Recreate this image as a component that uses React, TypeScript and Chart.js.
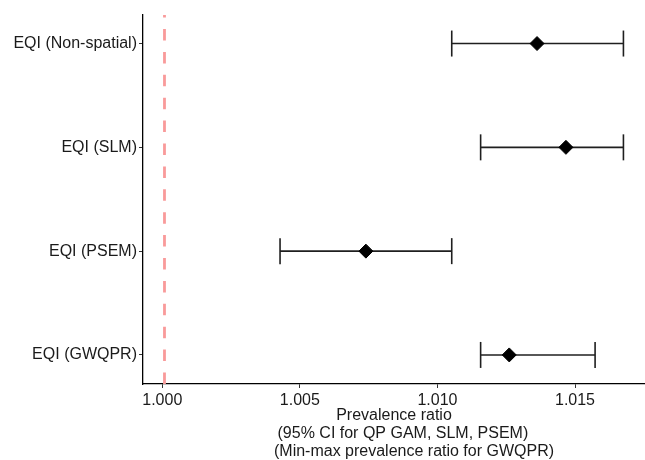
import React, { useEffect, useRef } from "react";
import { Chart, registerables } from "chart.js";

Chart.register(...registerables);

const categories = ["EQI (Non-spatial)", "EQI (SLM)", "EQI (PSEM)", "EQI (GWQPR)"];
const estimates = [1.01362, 1.01467, 1.0074, 1.01261];
const lowerBounds = [1.01052, 1.01157, 1.00428, 1.01157];
const upperBounds = [1.01676, 1.01676, 1.01052, 1.01573];
const referenceValue = 1.00008;
const xTickValues = [1.0, 1.005, 1.01, 1.015];
const xTitleLines = [
  "Prevalence ratio",
  "    (95% CI for QP GAM, SLM, PSEM)",
  "         (Min-max prevalence ratio for GWQPR)",
];

const X_MIN = 0.999299;
const X_MAX = 1.017544;
const Y_MIN = 0.725;
const Y_MAX = 4.28;

export default function App() {
  const canvasRef = useRef<HTMLCanvasElement | null>(null);

  useEffect(() => {
    document.body.style.margin = "0";
    const canvas = canvasRef.current;
    if (!canvas) return;
    Chart.defaults.font.family = "'Liberation Sans', Arial, sans-serif";

    const errorSets = categories.map((_, i) => ({
      type: "scatter" as const,
      data: [
        { x: lowerBounds[i], y: i + 1 },
        { x: upperBounds[i], y: i + 1 },
      ],
      showLine: true,
      borderColor: "#1f1f1f",
      borderWidth: 1.6,
      pointStyle: "line" as const,
      pointRotation: 90,
      pointRadius: 13,
      pointBorderWidth: 1.6,
      pointBorderColor: "#1f1f1f",
      pointBackgroundColor: "#1f1f1f",
      order: 2,
    }));

    const chart = new Chart(canvas, {
      type: "scatter",
      data: {
        datasets: [
          {
            data: [
              { x: referenceValue, y: Y_MAX },
              { x: referenceValue, y: Y_MIN },
            ],
            showLine: true,
            borderColor: "#F99A9A",
            borderWidth: 2.8,
            borderDash: [11.5, 11.4],
            pointRadius: 0,
            order: 3,
          },
          ...errorSets,
          {
            data: estimates.map((v, i) => ({ x: v, y: i + 1 })),
            pointStyle: "rectRot",
            pointRadius: 7,
            pointBorderWidth: 1,
            pointBackgroundColor: "#000",
            pointBorderColor: "#000",
            showLine: false,
            order: 1,
          },
        ],
      },
      options: {
        responsive: false,
        animation: false,
        layout: { autoPadding: false, padding: { top: 15, left: 0, right: 0, bottom: 0 } },
        plugins: { legend: { display: false }, tooltip: { enabled: false } },
        scales: {
          x: {
            type: "linear",
            position: "bottom",
            min: X_MIN,
            max: X_MAX,
            afterBuildTicks: (scale: any) => {
              scale.ticks = xTickValues.map((v) => ({ value: v }));
            },
            afterFit: (scale: any) => {
              scale.height = 76;
              scale.paddingLeft = 0;
              scale.paddingRight = 0;
            },
            ticks: {
              callback: (v: any) => Number(v).toFixed(3),
              font: { size: 16 },
              color: "#1a1a1a",
              padding: 3,
              maxRotation: 0,
            },
            grid: {
              drawOnChartArea: false,
              drawTicks: true,
              tickLength: 4,
              tickColor: "#333",
              tickWidth: 1,
            },
            border: { display: true, color: "#000", width: 1.3 },
            title: {
              display: true,
              text: xTitleLines,
              font: { size: 16, lineHeight: 1.1 },
              color: "#1a1a1a",
              padding: { top: 0, bottom: 0 },
            },
          },
          y: {
            type: "linear",
            min: Y_MIN,
            max: Y_MAX,
            reverse: true,
            afterBuildTicks: (scale: any) => {
              scale.ticks = categories.map((_, i) => ({ value: i + 1 }));
            },
            afterFit: (scale: any) => {
              scale.width = 143;
              scale.paddingTop = 0;
              scale.paddingBottom = 0;
            },
            ticks: {
              callback: (v: any) => categories[Math.round(Number(v)) - 1] ?? "",
              font: { size: 16 },
              color: "#1a1a1a",
              padding: 2,
            },
            grid: {
              drawOnChartArea: false,
              drawTicks: true,
              tickLength: 4,
              tickColor: "#333",
              tickWidth: 1,
            },
            border: { display: true, color: "#000", width: 1.3 },
          },
        },
      },
    } as any);

    return () => chart.destroy();
  }, []);

  return (
    <div style={{ width: 645, height: 460, background: "#fff" }}>
      <canvas ref={canvasRef} width={645} height={460} />
    </div>
  );
}
